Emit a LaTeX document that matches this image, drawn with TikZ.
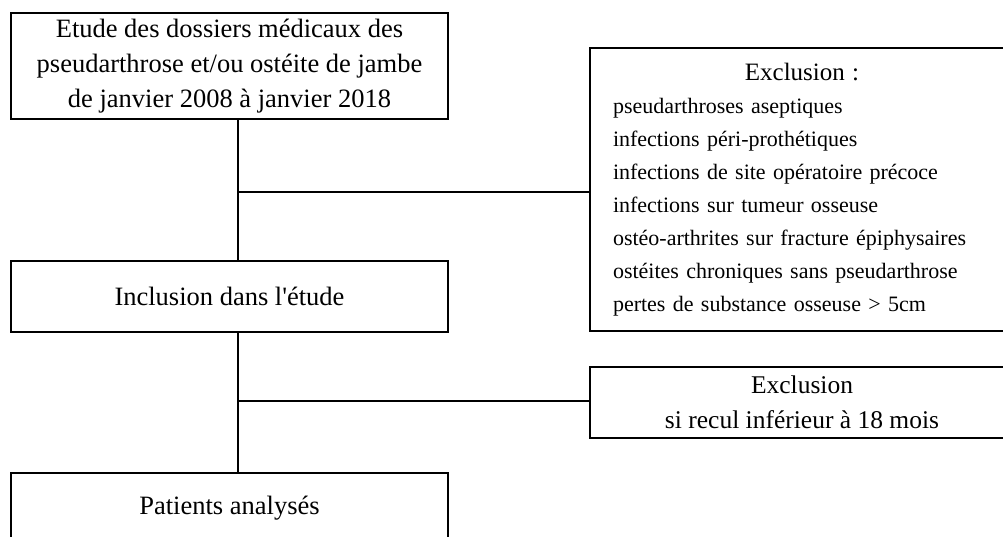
\documentclass[tikz,border=0pt]{standalone}
\usepackage{fontspec}
\setmainfont{Liberation Serif}
\begin{document}
\begin{tikzpicture}[x=1pt,y=-1pt,
  box/.style={draw, line width=1.5pt, rectangle, inner sep=0pt, align=center,
    font=\fontsize{26.5}{35}\selectfont},
  conn/.style={line width=1.5pt}]
\useasboundingbox[fill=white] (0,0) rectangle (1003,536);
\node[box, minimum width=437pt, minimum height=106pt] (b1) at (229.5,66)
  {Etude des dossiers médicaux des\\pseudarthrose et/ou ostéite de jambe\\de janvier 2008 à janvier 2018};
\node[box, minimum width=437pt, minimum height=71pt] (b2) at (229.5,296.5) {Inclusion dans l\textquotesingle étude};
\node[box, minimum width=437pt, minimum height=71pt] (b3) at (229.5,508.5) {Patients analysés};
\node[box, minimum width=424pt, minimum height=283pt, text width=378pt, align=left,
  font=\fontsize{22}{33}\selectfont] (ex1) at (802,189.5)
  {\makebox[378pt]{\fontsize{25}{33}\selectfont Exclusion :}\\
   pseudarthroses aseptiques\\
   infections péri-prothétiques\\
   infections de site opératoire précoce\\
   infections sur tumeur osseuse\\
   ostéo-arthrites sur fracture épiphysaires\\
   ostéites chroniques sans pseudarthrose\\
   pertes de substance osseuse > 5cm};
\node[box, minimum width=424pt, minimum height=71pt, font=\fontsize{25.5}{35}\selectfont] (ex2) at (802,402.5)
  {Exclusion\\si recul inférieur à 18 mois};
\coordinate (v) at (238,0);
\coordinate (j1) at (238,192);
\coordinate (j2) at (238,401);
\draw[conn] (b1.south -| v) -- (b2.north -| v);
\draw[conn] (b2.south -| v) -- (b3.north -| v);
\draw[conn] (j1) -- (j1 -| ex1.west);
\draw[conn] (j2) -- (j2 -| ex2.west);
\end{tikzpicture}
\end{document}
